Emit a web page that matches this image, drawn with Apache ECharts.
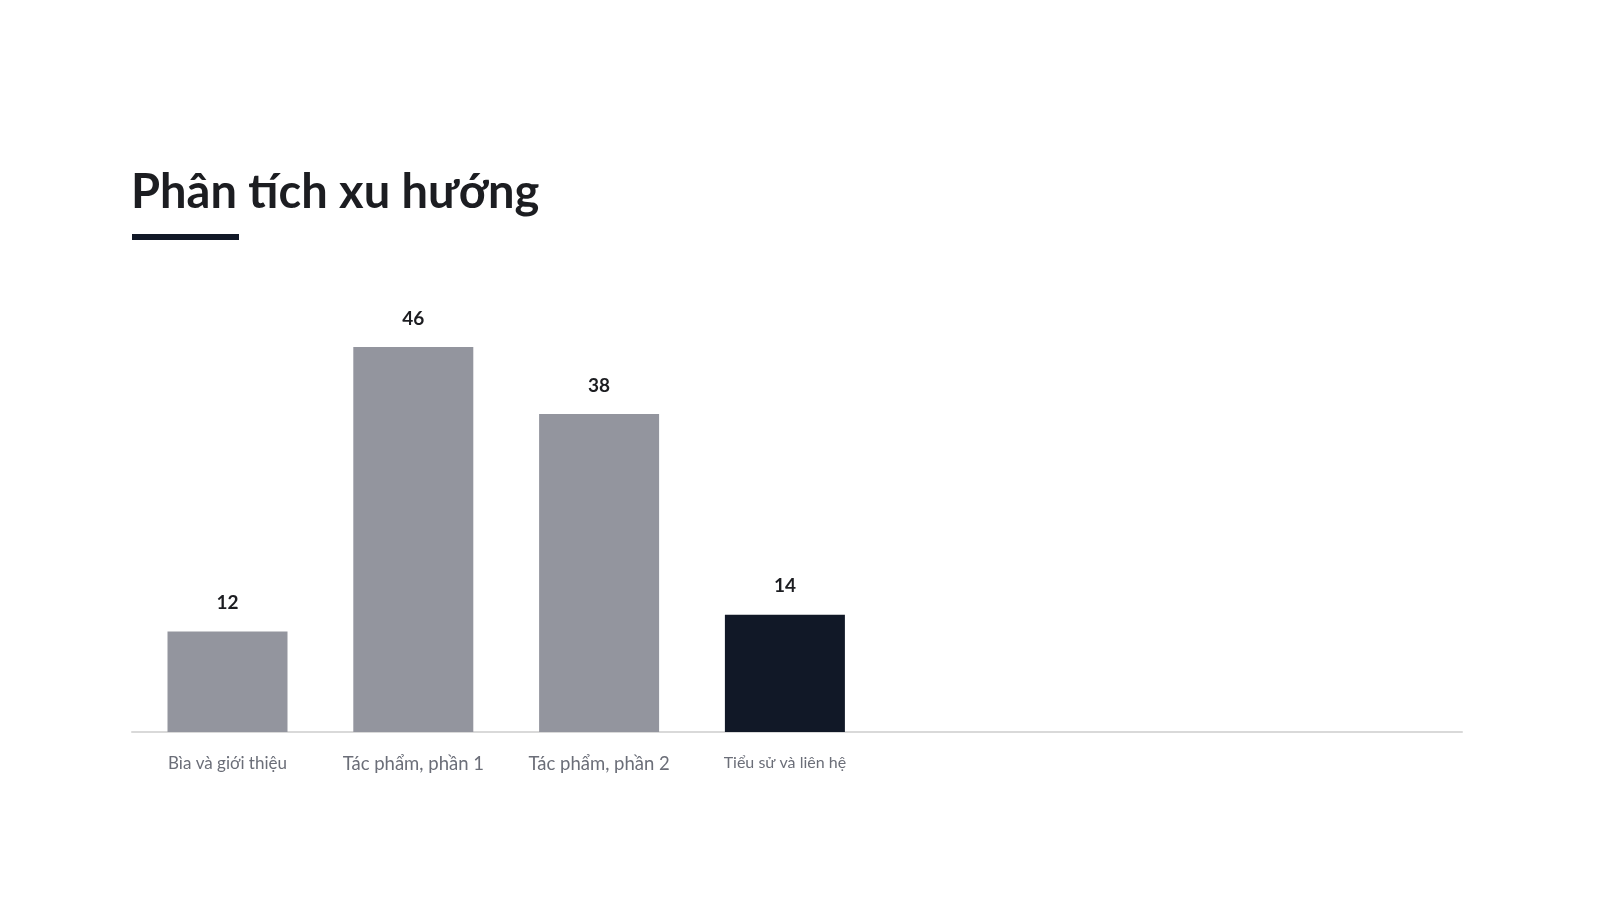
<!DOCTYPE html>
<html>
<head>
<meta charset="utf-8">
<script src="https://cdn.jsdelivr.net/npm/echarts@6/dist/echarts.min.js"></script>
<style>
  html, body { margin: 0; padding: 0; background: #fff; }
  #chart { width: 1598px; height: 900px; }
</style>
</head>
<body>
<div id="chart"></div>
<script>
// data
const categories = ['Bìa và giới thiệu', 'Tác phẩm, phần 1', 'Tác phẩm, phần 2', 'Tiểu sử và liên hệ'];
const values = [12, 46, 38, 14];
const highlightIndex = 3;
const labelStyles = ['a', 'b', 'b', 'c'];

const GRAY = '#93959e';
const DARK = '#111827';

const chart = echarts.init(document.getElementById('chart'));
chart.setOption({
  backgroundColor: '#ffffff',
  animation: false,
  textStyle: { fontFamily: 'Lato, "Noto Sans", sans-serif' },
  title: {
    text: 'Phân tích xu hướng',
    left: 126,
    top: 164,
    textStyle: { fontSize: 47, fontWeight: 'bold', color: '#1c1d21', fontFamily: 'Lato' }
  },
  graphic: [
    { type: 'rect', left: 132, top: 234, shape: { width: 107, height: 6 }, style: { fill: DARK } }
  ],
  grid: [
    { left: 134.6, width: 743.2, top: 313.5, bottom: 168, containLabel: false },
    { left: 132, width: 1330, top: 313.5, bottom: 168, containLabel: false }
  ],
  xAxis: [
    {
      type: 'category',
      gridIndex: 0,
      data: categories,
      axisLine: { show: false },
      axisTick: { show: false },
      axisLabel: {
        margin: 23,
        color: '#6b6e78',
        fontFamily: 'Lato',
        formatter: (v, i) => '{' + labelStyles[i] + '|' + v + '}',
        rich: {
          a: { fontSize: 17, color: '#6b6e78', fontFamily: 'Lato' },
          b: { fontSize: 18.5, color: '#6b6e78', fontFamily: 'Lato' },
          c: { fontSize: 16, color: '#6b6e78', fontFamily: 'Lato' }
        }
      }
    },
    {
      type: 'value',
      gridIndex: 1,
      axisLine: { show: true, lineStyle: { color: '#d9d9d9', width: 2 } },
      axisTick: { show: false },
      axisLabel: { show: false },
      splitLine: { show: false }
    }
  ],
  yAxis: [
    { type: 'value', gridIndex: 0, min: 0, max: 50, show: false },
    { type: 'value', gridIndex: 1, show: false }
  ],
  series: [{
    type: 'bar',
    xAxisIndex: 0,
    yAxisIndex: 0,
    barWidth: 120,
    data: values.map((v, i) => ({
      value: v,
      itemStyle: { color: i === highlightIndex ? DARK : GRAY }
    })),
    label: {
      show: true,
      position: 'top',
      distance: 19,
      fontSize: 19,
      fontWeight: 'bold',
      color: '#1c1d21',
      fontFamily: 'Lato'
    }
  }]
});
</script>
</body>
</html>
